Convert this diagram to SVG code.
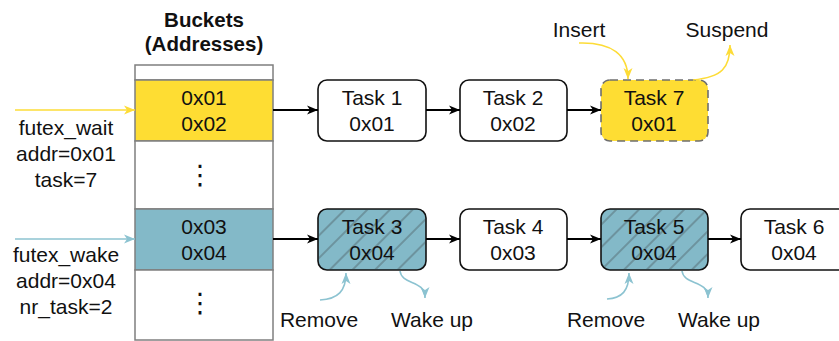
<svg xmlns="http://www.w3.org/2000/svg" width="839" height="341" viewBox="0 0 839 341">
<style>
text{font-family:"Liberation Sans",Arial,sans-serif;font-size:21px;fill:#111;text-anchor:middle}
.b{font-weight:bold;font-size:20.5px}
.task{fill:#fff;stroke:#111;stroke-width:1.6}
.teal{fill:#83b9c8;stroke:#111;stroke-width:1.6}
.hatch{fill:url(#hatch);stroke:none}
.bucket{stroke:#7f7f7f;stroke-width:1.5}
.conn{fill:none;stroke:#000;stroke-width:1.8}
.y{fill:none;stroke:#fddc37;stroke-width:1.6}
.bl{fill:none;stroke:#8cc3d1;stroke-width:1.6}
.dots{font-family:"DejaVu Sans",sans-serif;font-size:27px}
</style>
<defs>
<marker id="ab" markerUnits="userSpaceOnUse" markerWidth="12" markerHeight="10" refX="11" refY="5" orient="auto"><path d="M0,0.5 L11,5 L0,9.5 L3,5 z" fill="#000"/></marker>
<marker id="ay" markerUnits="userSpaceOnUse" markerWidth="12" markerHeight="10" refX="11" refY="5" orient="auto"><path d="M0,0.5 L11,5 L0,9.5 L3,5 z" fill="#fddc37"/></marker>
<marker id="abl" markerUnits="userSpaceOnUse" markerWidth="12" markerHeight="10" refX="11" refY="5" orient="auto"><path d="M0,0.5 L11,5 L0,9.5 L3,5 z" fill="#8cc3d1"/></marker>
<pattern id="hatch" patternUnits="userSpaceOnUse" width="16" height="16" patternTransform="rotate(-45)"><line x1="0" y1="8" x2="16" y2="8" stroke="#333" stroke-opacity="0.4" stroke-width="1.4"/></pattern>
</defs>

<g id="buckets">
<text class="b" x="204" y="27">Buckets</text>
<text class="b" x="204" y="51">(Addresses)</text>
<rect class="bucket" x="135" y="65" width="138" height="15" fill="#fff"/>
<rect class="bucket" x="135" y="80" width="138" height="61" fill="#fedd33"/>
<rect class="bucket" x="135" y="141" width="138" height="68" fill="#fff"/>
<rect class="bucket" x="135" y="209" width="138" height="61" fill="#83b9c8"/>
<rect class="bucket" x="135" y="270" width="138" height="70" fill="#fff"/>
<text x="204" y="105">0x01</text>
<text x="204" y="131">0x02</text>
<text class="dots" x="200" y="184">⋮</text>
<text x="204" y="234">0x03</text>
<text x="204" y="260">0x04</text>
<text class="dots" x="200" y="312">⋮</text>
</g>

<g id="futex_wait">
<text x="66" y="135">futex_wait</text>
<text x="66" y="161">addr=0x01</text>
<text x="66" y="187">task=7</text>
</g>
<g id="futex_wake">
<text x="66" y="262">futex_wake</text>
<text x="66" y="288">addr=0x04</text>
<text x="66" y="314">nr_task=2</text>
</g>

<g id="task1"><rect class="task" x="318" y="80" width="108" height="61" rx="9"/><text x="372" y="105">Task 1</text><text x="372" y="131">0x01</text></g>
<g id="task2"><rect class="task" x="460" y="80" width="107" height="61" rx="9"/><text x="513" y="105">Task 2</text><text x="513" y="131">0x02</text></g>
<g id="task7"><rect x="601" y="80" width="107" height="61" rx="9" fill="#fedd33" stroke="#6f6f6f" stroke-width="1.6" stroke-dasharray="8 5"/><text x="654" y="105">Task 7</text><text x="654" y="131">0x01</text></g>

<g id="task3"><rect class="teal" x="318" y="209" width="108" height="61" rx="9"/><rect class="hatch" x="319" y="210" width="106" height="59" rx="8"/><text x="372" y="234">Task 3</text><text x="372" y="260">0x04</text></g>
<g id="task4"><rect class="task" x="460" y="209" width="107" height="61" rx="9"/><text x="513" y="234">Task 4</text><text x="513" y="260">0x03</text></g>
<g id="task5"><rect class="teal" x="601" y="209" width="107" height="61" rx="9"/><rect class="hatch" x="602" y="210" width="105" height="59" rx="8"/><text x="654" y="234">Task 5</text><text x="654" y="260">0x04</text></g>
<g id="task6"><rect class="task" x="741" y="209" width="108" height="61" rx="9"/><text x="794" y="234">Task 6</text><text x="794" y="260">0x04</text></g>

<g id="labels">
<text x="579" y="37">Insert</text>
<text x="727" y="37">Suspend</text>
<text x="319" y="327">Remove</text>
<text x="432" y="327">Wake up</text>
<text x="606" y="327">Remove</text>
<text x="719" y="327">Wake up</text>
</g>

<g id="connectors">
<line class="conn" x1="273" y1="110" x2="318" y2="110" marker-end="url(#ab)"/>
<line class="conn" x1="426" y1="110" x2="460" y2="110" marker-end="url(#ab)"/>
<line class="conn" x1="567" y1="110" x2="601" y2="110" marker-end="url(#ab)"/>
<line class="conn" x1="273" y1="239" x2="318" y2="239" marker-end="url(#ab)"/>
<line class="conn" x1="426" y1="239" x2="460" y2="239" marker-end="url(#ab)"/>
<line class="conn" x1="567" y1="239" x2="601" y2="239" marker-end="url(#ab)"/>
<line class="conn" x1="708" y1="239" x2="741" y2="239" marker-end="url(#ab)"/>
<line class="y" x1="15" y1="110" x2="135" y2="110" marker-end="url(#ay)"/>
<line class="bl" x1="15" y1="239" x2="135" y2="239" marker-end="url(#abl)"/>
<path class="y" d="M579,43 C612,42 628,55 628,79" marker-end="url(#ay)"/>
<path class="y" d="M693,80 C722,77 730,68 730,45" marker-end="url(#ay)"/>
<path class="bl" d="M320,300 C338,299 346,291 346,273" marker-end="url(#abl)"/>
<path class="bl" d="M400,271 C402,286 425,279 425,298" marker-end="url(#abl)"/>
<path class="bl" d="M607,299 C622,298 629,291 629,273" marker-end="url(#abl)"/>
<path class="bl" d="M682,271 C684,286 708,279 708,298" marker-end="url(#abl)"/>
</g>
</svg>
